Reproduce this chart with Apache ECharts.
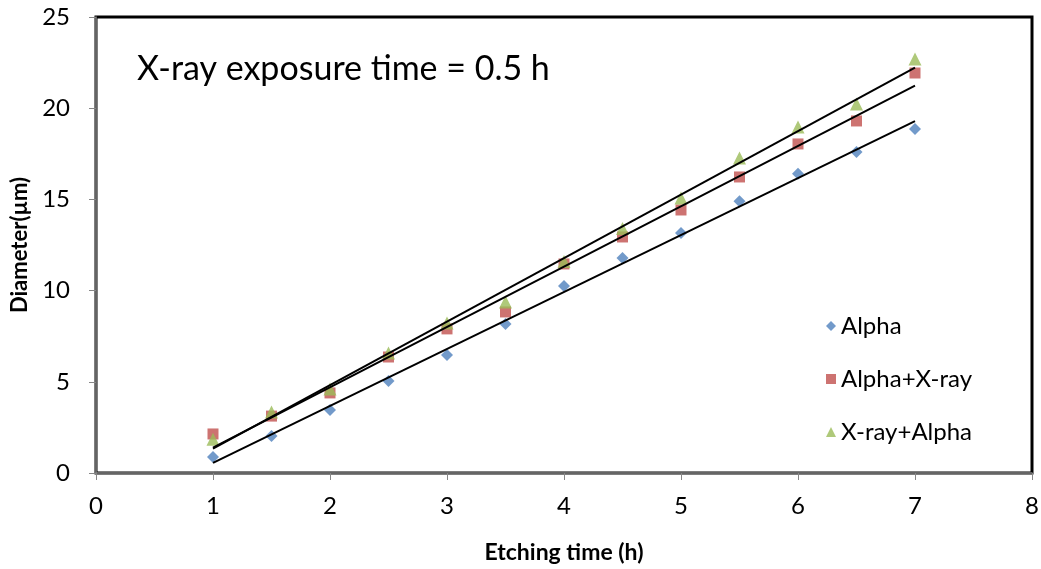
<!DOCTYPE html>
<html><head><meta charset="utf-8">
<script src="https://cdn.jsdelivr.net/npm/echarts@6/dist/echarts.min.js"></script>
<style>html,body{margin:0;padding:0;background:#fff}#c{width:1041px;height:569px}</style>
</head><body><div id="c"></div>
<script>
const etchingTime = [1, 1.5, 2, 2.5, 3, 3.5, 4, 4.5, 5, 5.5, 6, 6.5, 7];
const alpha = [0.88, 2.03, 3.45, 5.04, 6.47, 8.17, 10.25, 11.79, 13.16, 14.9, 16.4, 17.6, 18.86];
const alphaXray = [2.14, 3.12, 4.39, 6.36, 7.9, 8.83, 11.46, 12.94, 14.42, 16.23, 18.04, 19.3, 21.93];
const xrayAlpha = [1.85, 3.34, 4.6, 6.58, 8.22, 9.38, 11.6, 13.4, 15.07, 17.27, 18.97, 20.23, 22.7];
const seriesNames = ['Alpha', 'Alpha+X-ray', 'X-ray+Alpha'];
const xTicks = [0, 1, 2, 3, 4, 5, 6, 7, 8];
const yTicks = [0, 5, 10, 15, 20, 25];

function fit(xs, ys) {
  const n = xs.length;
  const mx = xs.reduce((a, b) => a + b, 0) / n;
  const my = ys.reduce((a, b) => a + b, 0) / n;
  let sxy = 0, sxx = 0;
  for (let i = 0; i < n; i++) { sxy += (xs[i] - mx) * (ys[i] - my); sxx += (xs[i] - mx) ** 2; }
  const b = sxy / sxx, a = my - b * mx;
  const x0 = xs[0], x1 = xs[n - 1];
  return [[x0, a + b * x0], [x1, a + b * x1]];
}
const pts = ys => etchingTime.map((x, i) => [x, ys[i]]);

const font = 'Lato, "Open Sans", sans-serif';
const colors = ['#4F81BD', '#C0504D', '#9BBB59'];
const symbols = ['diamond', 'rect', 'triangle'];
const sizes = [12, 11, 13];
const datasets = [alpha, alphaXray, xrayAlpha];

const series = [];
datasets.forEach((d, i) => {
  series.push({
    name: seriesNames[i] + ' trend', type: 'line', data: fit(etchingTime, d),
    symbol: 'none', silent: true, z: 3,
    lineStyle: { color: '#000', width: 2 }
  });
});
datasets.forEach((d, i) => {
  series.push({
    name: seriesNames[i], type: 'scatter', data: pts(d),
    symbol: symbols[i], symbolSize: sizes[i], z: 2,
    itemStyle: { color: colors[i] }
  });
});

const chart = echarts.init(document.getElementById('c'));
chart.setOption({
  animation: false,
  grid: { left: 96, right: 9, top: 17, bottom: 96, show: true, borderColor: '#000', borderWidth: 3,
    backgroundColor: '#fff', containLabel: false, outerBoundsMode: 'none' },
  xAxis: {
    type: 'value', min: 0, max: 8, interval: 1,
    name: 'Etching time (h)', nameLocation: 'middle', nameGap: 68,
    nameTextStyle: { fontFamily: font, fontSize: 23, fontWeight: 'bold', color: '#000' },
    axisLine: { show: true, lineStyle: { color: '#868686', width: 1.5 } },
    axisTick: { show: true, length: 7, lineStyle: { color: '#868686' } },
    axisLabel: { fontFamily: font, fontSize: 24, color: '#000', margin: 21,
      formatter: v => xTicks.includes(v) ? String(v) : '' },
    splitLine: { show: false }
  },
  yAxis: {
    type: 'value', min: 0, max: 25, interval: 5,
    name: 'Diameter(µm)', nameLocation: 'middle', nameGap: 63, nameRotate: 90,
    nameTextStyle: { fontFamily: font, fontSize: 22, fontWeight: 'bold', color: '#000' },
    axisLine: { show: true, lineStyle: { color: '#868686', width: 1.5 } },
    axisTick: { show: true, length: 7, lineStyle: { color: '#868686' } },
    axisLabel: { fontFamily: font, fontSize: 24, color: '#000', margin: 26,
      formatter: v => yTicks.includes(v) ? String(v) : '' },
    splitLine: { show: false }
  },
  legend: {
    data: seriesNames.map((n, i) => ({ name: n, icon: symbols[i] })),
    orient: 'vertical', left: 821, top: 309, itemGap: 29,
    itemWidth: 10, itemHeight: 10,
    textStyle: { fontFamily: font, fontSize: 24, color: '#000', lineHeight: 24 }
  },
  graphic: [{
    type: 'text', left: 137, top: 52,
    style: { text: 'X-ray exposure time = 0.5 h', fontFamily: font, fontSize: 34, fill: '#000' }
  }],
  series: series
});
</script></body></html>
